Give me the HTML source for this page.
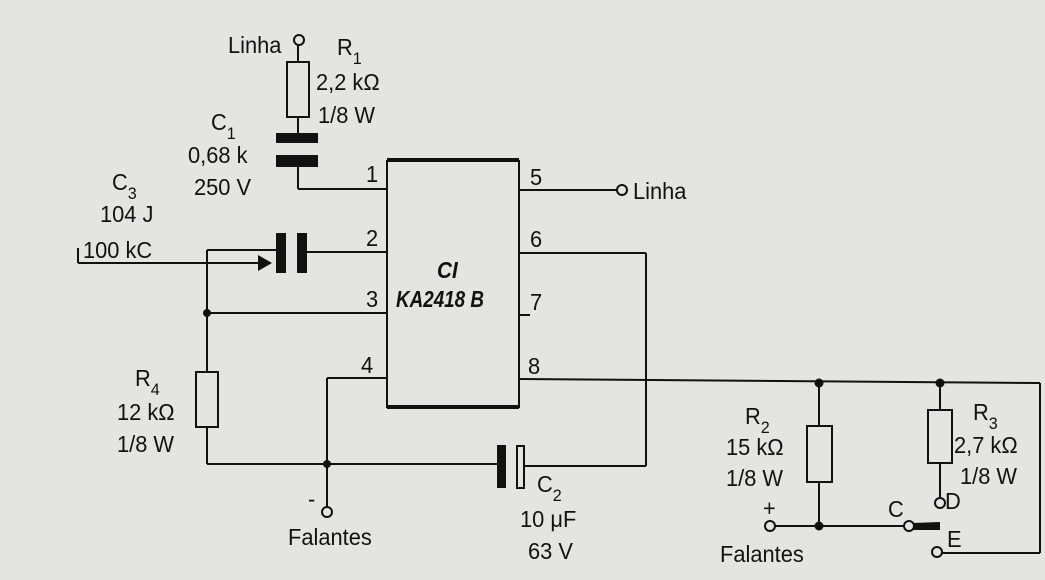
<!DOCTYPE html>
<html><head><meta charset="utf-8"><style>
html,body{margin:0;padding:0;background:#e4e4e2;}
svg{display:block}
text{font-family:"Liberation Sans",sans-serif;font-size:23px;fill:#111;}
</style></head><body>
<svg width="1045" height="580" viewBox="0 0 1045 580" xmlns="http://www.w3.org/2000/svg">
<rect width="1045" height="580" fill="#e4e4e2"/>
<g stroke="#111" stroke-width="2" fill="none">
<line x1="298" y1="45" x2="298" y2="62"/>
<rect x="287" y="62" width="22" height="55" fill="#e4e4e2"/>
<line x1="298" y1="117" x2="298" y2="135"/>
<line x1="298" y1="160" x2="298" y2="189"/>
<line x1="298" y1="189" x2="387" y2="189"/>
<rect x="387" y="161" width="132" height="246"/>
<line x1="387" y1="160" x2="519" y2="160" stroke-width="4"/>
<line x1="387" y1="407" x2="519" y2="407" stroke-width="4"/>
<line x1="519" y1="190" x2="617" y2="190"/>
<line x1="207" y1="250" x2="276" y2="250"/>
<line x1="207" y1="250" x2="207" y2="313"/>
<line x1="305" y1="252" x2="387" y2="252"/>
<line x1="78" y1="248" x2="78" y2="263"/>
<line x1="78" y1="263" x2="262" y2="263"/>
<line x1="207" y1="313" x2="387" y2="313"/>
<line x1="207" y1="313" x2="207" y2="372"/>
<rect x="196" y="372" width="22" height="55" fill="#e4e4e2"/>
<line x1="207" y1="427" x2="207" y2="464"/>
<line x1="207" y1="464" x2="497" y2="464"/>
<line x1="327" y1="378" x2="387" y2="378"/>
<line x1="327" y1="378" x2="327" y2="507"/>
<line x1="519" y1="253" x2="646" y2="253"/>
<line x1="646" y1="253" x2="646" y2="466"/>
<line x1="524" y1="466" x2="646" y2="466"/>
<rect x="517" y="446" width="7" height="42" fill="#e4e4e2"/>
<line x1="519" y1="315" x2="530" y2="315"/>
<line x1="519" y1="379" x2="1040" y2="383"/>
<line x1="1040" y1="383" x2="1040" y2="553"/>
<line x1="942" y1="553" x2="1040" y2="553"/>
<line x1="819" y1="382" x2="819" y2="426"/>
<rect x="807" y="426" width="25" height="56" fill="#e4e4e2"/>
<line x1="819" y1="482" x2="819" y2="526"/>
<line x1="775" y1="526" x2="904" y2="526"/>
<line x1="940" y1="382" x2="940" y2="410"/>
<rect x="928" y="410" width="24" height="53" fill="#e4e4e2"/>
<line x1="940" y1="463" x2="940" y2="497"/>
<circle cx="299" cy="40" r="5"/>
<circle cx="622" cy="190" r="5"/>
<circle cx="327" cy="512" r="5"/>
<circle cx="770" cy="526" r="5"/>
<circle cx="909" cy="526" r="5"/>
<circle cx="940" cy="503" r="5"/>
<circle cx="937" cy="552" r="5"/>
</g>
<g fill="#111">
<rect x="276" y="133" width="42" height="10"/>
<rect x="276" y="155" width="42" height="12"/>
<rect x="276" y="233" width="10" height="40"/>
<rect x="297" y="233" width="10" height="40"/>
<polygon points="258,255 272,263 258,271"/>
<rect x="497" y="445" width="9" height="43"/>
<polygon points="913,523 940,522 940,530 913,530"/>
<circle cx="207" cy="313" r="4"/>
<circle cx="327" cy="464" r="4"/>
<circle cx="819" cy="383" r="4.5"/>
<circle cx="940" cy="383" r="4.5"/>
<circle cx="819" cy="526" r="4.5"/>
</g>
<g>
<text transform="translate(228,53) scale(.95,1)">Linha</text>
<text transform="translate(337,55) scale(.95,1)">R<tspan font-size="17" dy="9">1</tspan></text>
<text transform="translate(316,90) scale(.95,1)">2,2 kΩ</text>
<text transform="translate(318,123) scale(.95,1)">1/8 W</text>
<text transform="translate(211,130) scale(.95,1)">C<tspan font-size="17" dy="9">1</tspan></text>
<text transform="translate(188,163) scale(.95,1)">0,68 k</text>
<text transform="translate(194,195) scale(.95,1)">250 V</text>
<text transform="translate(112,190) scale(.95,1)">C<tspan font-size="17" dy="9">3</tspan></text>
<text transform="translate(100,222) scale(.95,1)">104 J</text>
<text transform="translate(83,258) scale(.95,1)">100 kC</text>
<text transform="translate(366,182) scale(.95,1)">1</text>
<text transform="translate(366,246) scale(.95,1)">2</text>
<text transform="translate(366,307) scale(.95,1)">3</text>
<text transform="translate(361,373) scale(.95,1)">4</text>
<text transform="translate(530,185) scale(.95,1)">5</text>
<text transform="translate(530,247) scale(.95,1)">6</text>
<text transform="translate(530,310) scale(.95,1)">7</text>
<text transform="translate(528,374) scale(.95,1)">8</text>
<text transform="translate(633,199) scale(.95,1)">Linha</text>
<text transform="translate(437,278) scale(.9,1)" font-weight="bold" font-style="italic" font-size="24">CI</text>
<text transform="translate(396,307) scale(.82,1)" font-weight="bold" font-style="italic" font-size="24">KA2418 B</text>
<text transform="translate(135,386) scale(.95,1)">R<tspan font-size="17" dy="9">4</tspan></text>
<text transform="translate(117,420) scale(.95,1)">12 kΩ</text>
<text transform="translate(117,452) scale(.95,1)">1/8 W</text>
<text transform="translate(308,507) scale(.95,1)">-</text>
<text transform="translate(288,545) scale(.95,1)">Falantes</text>
<text transform="translate(537,492) scale(.95,1)">C<tspan font-size="17" dy="9">2</tspan></text>
<text transform="translate(520,527) scale(.95,1)">10 μF</text>
<text transform="translate(528,559) scale(.95,1)">63 V</text>
<text transform="translate(745,424) scale(.95,1)">R<tspan font-size="17" dy="9">2</tspan></text>
<text transform="translate(726,455) scale(.95,1)">15 kΩ</text>
<text transform="translate(726,486) scale(.95,1)">1/8 W</text>
<text transform="translate(763,516) scale(.95,1)">+</text>
<text transform="translate(720,562) scale(.95,1)">Falantes</text>
<text transform="translate(973,420) scale(.95,1)">R<tspan font-size="17" dy="9">3</tspan></text>
<text transform="translate(954,453) scale(.95,1)">2,7 kΩ</text>
<text transform="translate(960,484) scale(.95,1)">1/8 W</text>
<text transform="translate(945,509) scale(.95,1)">D</text>
<text transform="translate(888,517) scale(.95,1)">C</text>
<text transform="translate(947,547) scale(.95,1)">E</text>
</g>
</svg>
</body></html>
